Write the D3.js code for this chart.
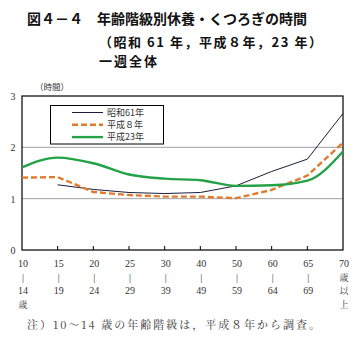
<!DOCTYPE html>
<html><head><meta charset="utf-8">
<script src="https://cdn.jsdelivr.net/npm/d3@7"></script>
<style>body{margin:0;background:#fff}svg{display:block}</style>
</head><body>
<script>
const categories = ["10-14","15-19","20-24","25-29","30-39","40-49","50-59","60-64","65-69","70+"];
const tickTop = ["10","15","20","25","30","40","50","60","65","70"];
const tickMid = ["|","|","|","|","|","|","|","|","|","歳"];
const tickBot = ["14","19","24","29","39","49","59","64","69","以"];
const tickExtra = ["歳","","","","","","","","","上"];
const seriesNames = ["昭和61年","平成８年","平成23年"];
const s61 = [null,1.27,1.18,1.12,1.10,1.12,1.25,1.53,1.77,2.66];
const h8 = [1.41,1.42,1.13,1.07,1.04,1.04,1.01,1.17,1.45,2.09];
const h23 = [1.61,1.80,1.69,1.47,1.39,1.36,1.25,1.26,1.35,1.92];
const yTicks = [0,1,2,3];

const W=361,H=338;
const svg=d3.select("body").append("svg").attr("width",W).attr("height",H);
const L=22,R=343,T=96,B=250;
const x=d3.scalePoint().domain(categories).range([L,R]);
const y=d3.scaleLinear().domain([0,3]).range([B,T]);

const serif="'Liberation Serif','DejaVu Serif',serif";
const cjk="'Noto Sans CJK JP',sans-serif";
const mincho="'Noto Serif CJK JP','Noto Sans CJK JP',serif";

// title
const title=svg.append("g").attr("font-family",cjk).attr("font-weight","bold").attr("fill","#111");
title.append("text").attr("x",27).attr("y",24).attr("font-size",14).text("図４－４　年齢階級別休養・くつろぎの時間");
title.append("text").attr("x",99).attr("y",47).attr("font-size",13).attr("textLength",223).text("（昭和 61 年，平成８年，23 年）");
title.append("text").attr("x",99).attr("y",66).attr("font-size",13).attr("textLength",58).text("一週全体");

// gridlines
svg.append("g").selectAll("line").data([1,2]).join("line")
  .attr("x1",L).attr("x2",R).attr("y1",d=>y(d)).attr("y2",d=>y(d))
  .attr("stroke","#a0a0a0").attr("stroke-width",1);

// frame
svg.append("rect").attr("x",L).attr("y",T).attr("width",R-L).attr("height",B-T)
  .attr("fill","none").attr("stroke","#000").attr("stroke-width",1.2);

// y axis labels
svg.append("g").selectAll("text").data(yTicks).join("text")
  .attr("x",13).attr("y",d=>y(d)+4).attr("text-anchor","middle")
  .attr("font-family",serif).attr("font-size",10).attr("fill","#333").text(d=>d);
svg.append("text").attr("x",35).attr("y",90).attr("font-family",cjk).attr("font-size",8.5).attr("fill","#333").text("（時間）");

// x ticks
svg.append("g").selectAll("line").data(categories.slice(1,-1)).join("line")
  .attr("x1",d=>x(d)).attr("x2",d=>x(d)).attr("y1",B).attr("y2",B-4)
  .attr("stroke","#000").attr("stroke-width",1);

const xl=svg.append("g").attr("font-size",10).attr("fill","#333").attr("text-anchor","middle");
categories.forEach((c,i)=>{
  const g=xl.append("g");
  g.append("text").attr("x",x(c)+1).attr("y",267).attr("font-family",serif).text(tickTop[i]);
  const midC=tickMid[i]!=="|";
  g.append("text").attr("x",x(c)+1).attr("y",280.5).attr("font-family",midC?mincho:serif).attr("font-size",midC?9:10).text(tickMid[i]);
  const botC=tickBot[i]==="以";
  g.append("text").attr("x",x(c)+1).attr("y",294).attr("font-family",botC?mincho:serif).attr("font-size",botC?9:10).text(tickBot[i]);
  if(tickExtra[i]) g.append("text").attr("x",x(c)+1).attr("y",307.5).attr("font-family",mincho).attr("font-size",9).text(tickExtra[i]);
});

// lines
const line=d3.line().defined(d=>d!=null).x((d,i)=>x(categories[i])).y(d=>y(d)).curve(d3.curveMonotoneX);
const lineStraight=d3.line().defined(d=>d!=null).x((d,i)=>x(categories[i])).y(d=>y(d));
const styles=[
  {data:s61,color:"#1c1c3c",w:1,dash:null},
  {data:h8,color:"#e07b2e",w:2.4,dash:"6,3"},
  {data:h23,color:"#25a148",w:2.4,dash:null}
];
styles.forEach((s,k)=>{
  svg.append("path").attr("d",(k===2?line:lineStraight)(s.data)).attr("fill","none")
    .attr("stroke",s.color).attr("stroke-width",s.w).attr("stroke-dasharray",s.dash);
});

// legend
const lg=svg.append("g");
lg.append("rect").attr("x",50.5).attr("y",105.5).attr("width",113).attr("height",38.5)
  .attr("fill","#fff").attr("stroke","#000").attr("stroke-width",1);
styles.forEach((s,k)=>{
  const yy=112.5+k*12.3;
  lg.append("line").attr("x1",72).attr("x2",103).attr("y1",yy).attr("y2",yy)
    .attr("stroke",s.color).attr("stroke-width",s.w).attr("stroke-dasharray",s.dash);
  lg.append("text").attr("x",107).attr("y",yy+3.2).attr("font-family",cjk).attr("font-size",9).attr("fill","#333").text(seriesNames[k]);
});

// note
svg.append("text").attr("x",27).attr("y",329).attr("font-family",mincho)
  .attr("font-size",11).attr("fill","#333").attr("textLength",293).text("注）10～14 歳の年齢階級は，平成８年から調査。");
</script>
</body></html>
